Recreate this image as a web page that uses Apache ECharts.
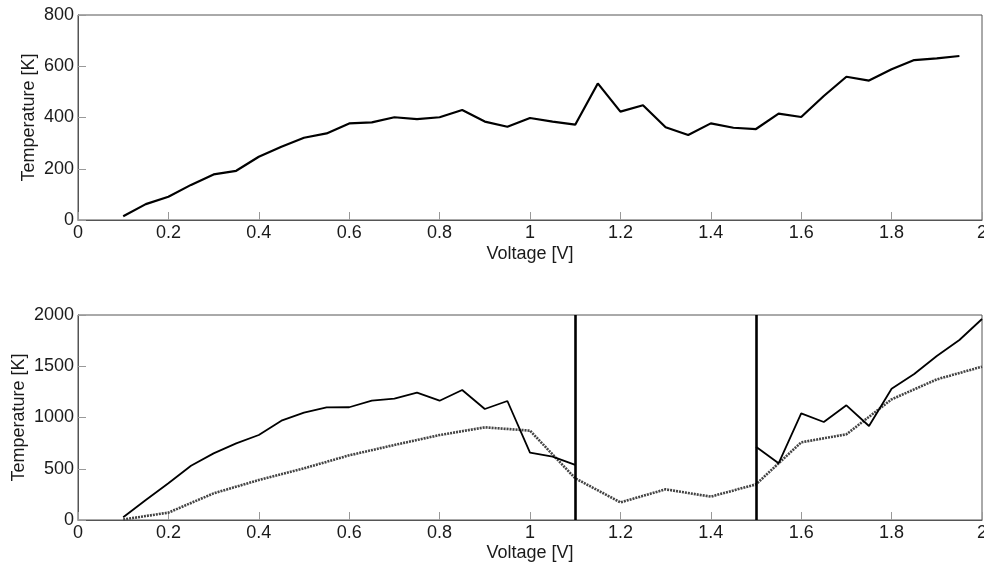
<!DOCTYPE html>
<html>
<head>
<meta charset="utf-8">
<title>Temperature vs Voltage</title>
<script src="https://cdn.jsdelivr.net/npm/echarts@6/dist/echarts.min.js"></script>
<style>
  html, body { margin: 0; padding: 0; background: #fff; }
  #main { width: 984px; height: 566px; }
</style>
</head>
<body>
<div id="main"></div>
<script>
// top panel
var voltTop = [0.1, 0.15, 0.2, 0.25, 0.3, 0.35, 0.4, 0.45, 0.5, 0.55, 0.6, 0.65, 0.7, 0.75, 0.8, 0.85, 0.9, 0.95, 1.0,
  1.05, 1.1, 1.15, 1.2, 1.25, 1.3, 1.35, 1.4, 1.45, 1.5, 1.55, 1.6, 1.65, 1.7, 1.75, 1.8, 1.85, 1.9, 1.95];
var tempTop = [15, 62, 91, 137, 178, 192, 247, 286, 321, 338, 377, 381, 401, 394, 401, 429, 384, 364, 398,
  384, 372, 533, 423, 448, 362, 332, 377, 360, 355, 415, 402, 484, 559, 544, 588, 624, 631, 640];

// bottom panel, solid (null = no value between the two markers)
var voltSolid = [0.1, 0.15, 0.2, 0.25, 0.3, 0.35, 0.4, 0.45, 0.5, 0.55, 0.6, 0.65, 0.7, 0.75, 0.8, 0.85, 0.9, 0.95, 1.0,
  1.05, 1.1, 1.15, 1.2, 1.25, 1.3, 1.35, 1.4, 1.45, 1.5, 1.55, 1.6, 1.65, 1.7, 1.75, 1.8, 1.85, 1.9, 1.95, 2.0];
var tempSolid = [26, 195, 358, 530, 650, 748, 829, 969, 1047, 1099, 1100, 1164, 1184, 1242, 1164, 1268, 1083, 1161, 657,
  618, 537, null, null, null, null, null, null, null, 715, 553, 1041, 956, 1119, 917, 1281, 1424, 1600, 1756, 1961];

// bottom panel, dotted
var voltDotted = [0.1, 0.2, 0.3, 0.4, 0.5, 0.6, 0.7, 0.8, 0.9, 1.0, 1.1, 1.2, 1.3, 1.4, 1.5, 1.6, 1.7, 1.8, 1.9, 2.0];
var tempDotted = [5, 72, 260, 390, 504, 631, 732, 829, 904, 872, 407, 172, 299, 228, 348, 758, 836, 1177, 1372, 1496];

// vertical markers
var markerVolts = [1.1, 1.5];

function pairs(xs, ys) {
  return xs.map(function (x, i) { return [x, ys[i]]; });
}

var font = 'Liberation Sans, Arial, sans-serif';
var txt = { color: '#1a1a1a', fontSize: 18, fontFamily: font };

function xAx(idx, gap) {
  return {
    gridIndex: idx, type: 'value', min: 0, max: 2, interval: 0.2,
    name: 'Voltage [V]', nameLocation: 'middle', nameGap: gap,
    nameTextStyle: txt,
    axisLine: { show: true, lineStyle: { color: '#555', width: 1 } },
    axisTick: { show: true, inside: true, length: 8, lineStyle: { color: '#999' } },
    axisLabel: Object.assign({ margin: 4, formatter: function (v) { return String(v); } }, txt),
    splitLine: { show: false }
  };
}
function yAx(idx, max, step, gap) {
  return {
    gridIndex: idx, type: 'value', min: 0, max: max, interval: step,
    name: 'Temperature [K]', nameLocation: 'middle', nameGap: gap, nameMoveOverlap: false,
    nameTextStyle: txt,
    axisLine: { show: true, lineStyle: { color: '#555', width: 1 } },
    axisTick: { show: true, inside: true, length: 8, lineStyle: { color: '#999' } },
    axisLabel: Object.assign({ margin: 4, formatter: function (v) { return String(v); } }, txt),
    splitLine: { show: false }
  };
}

var chart = echarts.init(document.getElementById('main'));
chart.setOption({
  animation: false,
  backgroundColor: '#fff',
  grid: [
    { left: 78, top: 15, width: 904, height: 205, show: true, borderColor: '#555', borderWidth: 1,
      containLabel: false, outerBoundsMode: 'none' },
    { left: 78, top: 315, width: 904, height: 205, show: true, borderColor: '#555', borderWidth: 1,
      containLabel: false, outerBoundsMode: 'none' }
  ],
  xAxis: [xAx(0, 25), xAx(1, 24)],
  yAxis: [yAx(0, 800, 200, 40), yAx(1, 2000, 500, 50)],
  series: [
    {
      type: 'line', xAxisIndex: 0, yAxisIndex: 0, symbol: 'none',
      data: pairs(voltTop, tempTop),
      lineStyle: { color: '#000', width: 2.2 }
    },
    {
      type: 'line', xAxisIndex: 1, yAxisIndex: 1, symbol: 'none',
      data: pairs(voltDotted, tempDotted),
      lineStyle: { color: '#444', width: 2.6, type: [2, 1] }
    },
    {
      type: 'line', xAxisIndex: 1, yAxisIndex: 1, symbol: 'none', connectNulls: false,
      data: pairs(voltSolid, tempSolid),
      lineStyle: { color: '#000', width: 1.8 },
      markLine: {
        symbol: 'none', silent: true, label: { show: false },
        lineStyle: { color: '#000', width: 2.6, type: 'solid' },
        data: markerVolts.map(function (v) { return { xAxis: v }; })
      }
    }
  ]
});
</script>
</body>
</html>
